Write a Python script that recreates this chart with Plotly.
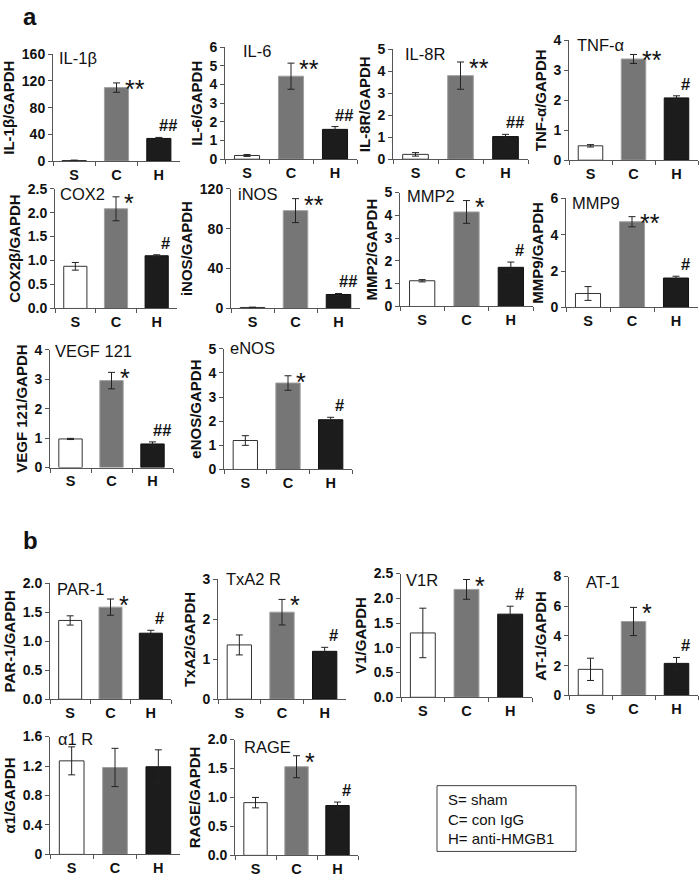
import plotly.graph_objects as go

W, H = 700, 883
groups = ["S", "C", "H"]
bar_fill = ["#ffffff", "#767676", "#1c1c1c"]
bar_line = ["#333333", "#a0a0a0", "#111111"]
FONT = "Arial, Liberation Sans, sans-serif"

# ---- data (mean, error) for S, C, H ----
il1b_mean = [1, 110, 34];        il1b_err = [0.6, 7, 1.5]
il6_mean = [0.2, 4.45, 1.6];     il6_err = [0.05, 0.7, 0.15]
il8r_mean = [0.22, 3.8, 1.03];   il8r_err = [0.08, 0.62, 0.1]
tnfa_mean = [0.48, 3.38, 2.08];  tnfa_err = [0.04, 0.15, 0.07]
cox2_mean = [0.88, 2.08, 1.1];   cox2_err = [0.08, 0.25, 0.02]
inos_mean = [1, 98, 14];         inos_err = [0.3, 12, 1]
mmp2_mean = [1.13, 4.15, 1.72];  mmp2_err = [0.05, 0.5, 0.23]
mmp9_mean = [0.77, 4.72, 1.62];  mmp9_err = [0.38, 0.28, 0.1]
vegf_mean = [0.97, 2.95, 0.8];   vegf_err = [0.02, 0.28, 0.07]
enos_mean = [1.2, 3.58, 2.06];   enos_err = [0.2, 0.3, 0.1]
par1_mean = [1.36, 1.59, 1.14];  par1_err = [0.08, 0.14, 0.05]
txa2_mean = [1.36, 2.18, 1.2];   txa2_err = [0.25, 0.32, 0.1]
v1r_mean = [1.3, 2.18, 1.68];    v1r_err = [0.5, 0.2, 0.16]
at1_mean = [1.75, 4.97, 2.15];   at1_err = [0.75, 0.95, 0.4]
a1r_mean = [1.27, 1.18, 1.19];   a1r_err = [0.19, 0.26, 0.23]
rage_mean = [0.91, 1.53, 0.86];  rage_err = [0.09, 0.19, 0.06]

panel_titles = ["IL-1β", "IL-6", "IL-8R", "TNF-α", "COX2", "iNOS", "MMP2", "MMP9",
                "VEGF 121", "eNOS", "PAR-1", "TxA2 R", "V1R", "AT-1", "α1 R", "RAGE"]
y_titles = ["IL-1β/GAPDH", "IL-6/GAPDH", "IL-8R/GAPDH", "TNF-α/GAPDH", "COX2β/GAPDH",
            "iNOS/GAPDH", "MMP2/GAPDH", "MMP9/GAPDH", "VEGF 121/GAPDH", "eNOS/GAPDH",
            "PAR-1/GAPDH", "TxA2/GAPDH", "V1/GAPDH", "AT-1/GAPDH", "α1/GAPDH", "RAGE/GAPDH"]
means = [il1b_mean, il6_mean, il8r_mean, tnfa_mean, cox2_mean, inos_mean, mmp2_mean, mmp9_mean,
         vegf_mean, enos_mean, par1_mean, txa2_mean, v1r_mean, at1_mean, a1r_mean, rage_mean]
errs = [il1b_err, il6_err, il8r_err, tnfa_err, cox2_err, inos_err, mmp2_err, mmp9_err,
        vegf_err, enos_err, par1_err, txa2_err, v1r_err, at1_err, a1r_err, rage_err]
sig_c = ["**", "**", "**", "**", "*", "**", "*", "**", "*", "*", "*", "*", "*", "*", "", "*"]
sig_h = ["##", "##", "##", "#", "#", "##", "#", "#", "##", "#", "#", "#", "#", "#", "", "#"]
y_max = [160, 6, 5, 4, 2.5, 120, 5, 6, 4, 5, 2.0, 3, 2.5, 8, 1.6, 2.0]
y_dtick = [40, 1, 1, 1, 0.5, 40, 1, 2, 1, 1, 0.5, 1, 0.5, 2, 0.4, 0.5]
y_fmt = ["", "", "", "", ".1f", "", "", "", "", "", ".1f", "", ".1f", "", "", ".1f"]

# ---- layout geometry (pixels): x0, x1, ytop, ybottom, title dx, title dy ----
boxes = [
    (53, 180, 47, 156, 4, 5), (225, 357, 40, 154, 16, 5), (393, 528, 42, 154, 10, 6),
    (569, 698, 33, 155, 6, 6), (55, 177, 184, 306, 3, 6), (231, 360, 184, 306, 5, 6),
    (400, 533, 188, 304, 5, 4), (566, 698, 194, 305, 4, 6), (50, 173, 348, 468, 3, 2),
    (224, 352, 347, 470, 4, 0), (50, 171, 586, 704, 5, 7), (218, 346, 582, 704, 6, 1),
    (401, 532, 576, 702, 3, 7), (569, 698, 579, 700, 15, 6), (50, 180, 742, 862, 6, 3),
    (235, 358, 745, 863, 7, 8),
]

fig = go.Figure()
annotations = []
layout = dict(width=W, height=H, margin=dict(l=0, r=0, t=0, b=0),
              paper_bgcolor="white", plot_bgcolor="white", showlegend=False,
              font=dict(family=FONT, color="#111111"), bargap=0.43)

for i in range(16):
    n = i + 1
    xa = "x" if n == 1 else f"x{n}"
    ya = "y" if n == 1 else f"y{n}"
    x0, x1, yt, yb, tdx, tdy = boxes[i]
    fig.add_trace(go.Bar(
        x=groups, y=means[i], xaxis=xa, yaxis=ya,
        marker=dict(color=bar_fill, line=dict(color=bar_line, width=1)),
        error_y=dict(type="data", array=errs[i], color="#222222", thickness=1, width=3.5),
    ))
    xkey = "xaxis" if n == 1 else f"xaxis{n}"
    ykey = "yaxis" if n == 1 else f"yaxis{n}"
    layout[xkey] = dict(domain=[x0 / W, x1 / W], anchor=ya, type="category",
                        range=[-0.5, 2.5], showline=True, linecolor="#555555", linewidth=1,
                        ticks="outside", ticklen=4, tickcolor="#555555", tickson="boundaries",
                        tickfont=dict(size=14.5, weight="bold", color="#111111"),
                        showgrid=False, zeroline=False, fixedrange=True)
    layout[ykey] = dict(domain=[1 - yb / H, 1 - yt / H], anchor=xa, range=[0, y_max[i]],
                        dtick=y_dtick[i], tick0=0, tickformat=y_fmt[i],
                        showline=True, linecolor="#555555", linewidth=1,
                        ticks="outside", ticklen=4, tickcolor="#555555",
                        tickfont=dict(size=14, weight="bold", color="#111111"),
                        title=dict(text=y_titles[i], standoff=3,
                                   font=dict(size=15, weight="bold", color="#111111")),
                        showgrid=False, zeroline=False, fixedrange=True)
    dref_x = f"{xa} domain"
    dref_y = f"{ya} domain"
    annotations.append(dict(text=panel_titles[i], xref=dref_x, yref=dref_y, x=0, y=1,
                            xanchor="left", yanchor="middle", xshift=tdx, yshift=-tdy + 1,
                            showarrow=False, font=dict(size=16.5, color="#111111")))
    if sig_c[i]:
        annotations.append(dict(text=sig_c[i], xref=xa, yref=ya, x="C",
                                y=means[i][1] + errs[i][1], xanchor="left", yanchor="middle",
                                xshift=6, yshift=-6, showarrow=False,
                                font=dict(size=25, color="#111111")))
    if sig_h[i]:
        annotations.append(dict(text="<b>" + sig_h[i] + "</b>", xref=xa, yref=ya, x="H",
                                y=means[i][2] + errs[i][2], xanchor="center", yanchor="bottom",
                                xshift=9, yshift=1, showarrow=False,
                                font=dict(size=16.5, color="#111111")))

# panel letters
annotations.append(dict(text="<b>a</b>", xref="paper", yref="paper", x=21 / W, y=1,
                        xanchor="left", yanchor="top", yshift=7, showarrow=False,
                        font=dict(size=24, color="#111111")))
annotations.append(dict(text="<b>b</b>", xref="paper", yref="paper", x=21 / W, y=1 - 527 / H,
                        xanchor="left", yanchor="top", showarrow=False,
                        font=dict(size=24, color="#111111")))
# key box
annotations.append(dict(text="S= sham<br>C= con IgG<br>H= anti-HMGB1", xref="paper",
                        yref="paper", x=446 / W, y=1 - 826 / H, xanchor="left",
                        yanchor="middle", align="left", showarrow=False,
                        font=dict(size=15, color="#111111")))
layout["shapes"] = [dict(type="rect", xref="paper", yref="paper", x0=437 / W, x1=576 / W,
                         y0=1 - 859 / H, y1=1 - 792 / H, line=dict(color="#444444", width=1))]
layout["annotations"] = annotations
fig.update_layout(**layout)
fig.write_html("out.html", config={"displayModeBar": False},
               post_script="document.body.style.margin='0';document.body.style.overflow='hidden';")
